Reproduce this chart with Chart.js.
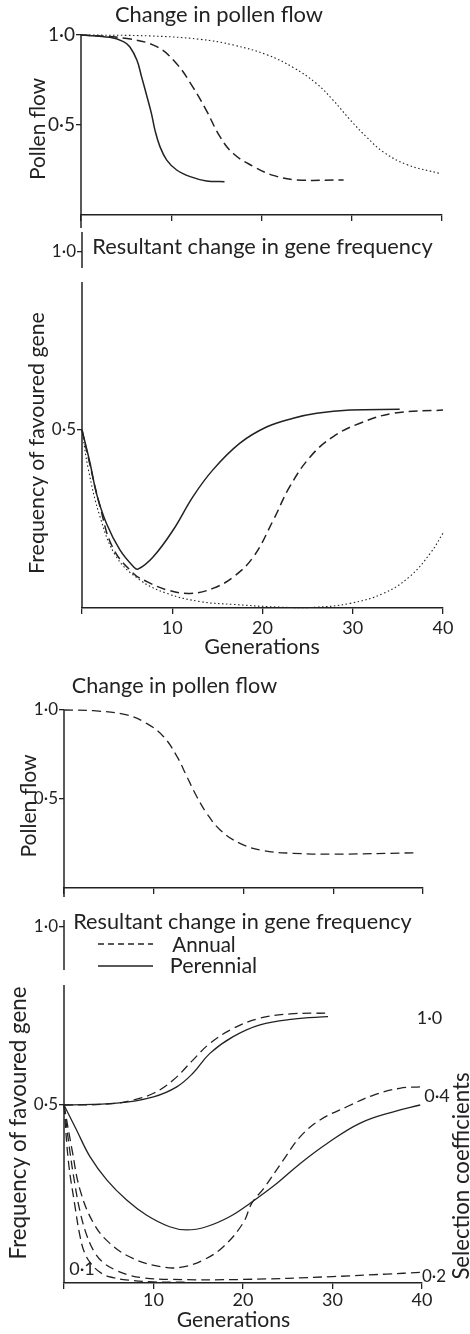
<!DOCTYPE html>
<html>
<head>
<meta charset="utf-8">
<script src="https://cdn.jsdelivr.net/npm/chart.js@4.4.1/dist/chart.umd.min.js"></script>
<style>
  body { margin: 0; background: #fff; width: 470px; height: 1334px; position: relative; overflow: hidden; font-family: Lato, "Open Sans", sans-serif; color: #222; }
  canvas { position: absolute; left: 0; }
  .lbl { position: absolute; white-space: nowrap; line-height: 1; font-size: 18px; }
</style>
</head>
<body>
<canvas id="c1" width="470" height="240" style="top:0px"></canvas>
<canvas id="c2" width="470" height="430" style="top:220px"></canvas>
<canvas id="c3" width="470" height="225" style="top:680px"></canvas>
<canvas id="c4" width="470" height="434" style="top:900px"></canvas>

<script>
const ink = '#222';

// x axis: generations, y axis: pollen flow / gene frequency
const genTicks = [0, 10, 20, 30, 40];
const valueTicks = [0.5, 1.0];

// --- top figure, change in pollen flow ---
const p1SolidGen  = [0, 3.2, 4.7, 5.4, 6.2, 6.7, 7.3, 7.8, 8.2, 8.75, 9.5, 10.6, 12.1, 13.9, 15.9];
const p1SolidFlow = [1.0, 0.987, 0.963, 0.935, 0.86, 0.77, 0.66, 0.565, 0.47, 0.38, 0.305, 0.25, 0.213, 0.189, 0.185];
const p1DashGen   = [0, 5.1, 8.4, 10.6, 12.4, 13.9, 15.4, 16.9, 19.1, 21.3, 23.9, 29.1];
const p1DashFlow  = [1.0, 0.98, 0.935, 0.84, 0.71, 0.58, 0.435, 0.34, 0.27, 0.22, 0.195, 0.195];
const p1DotGen    = [0, 7.6, 13.2, 16.9, 20.6, 23.5, 26.1, 27.9, 29.8, 31.7, 33.5, 36.1, 39.8];
const p1DotFlow   = [1.0, 0.995, 0.976, 0.944, 0.89, 0.82, 0.73, 0.64, 0.53, 0.43, 0.35, 0.28, 0.23];

// --- top figure, resultant gene frequency ---
const p2SolidGen  = [0, 0.9, 1.6, 2.7, 4.2, 5.7, 6.2, 7.9, 10.1, 12.3, 14.5, 17.5, 20.5, 23.4, 26, 29.7, 35.2];
const p2SolidFreq = [0.5, 0.406, 0.322, 0.238, 0.163, 0.116, 0.109, 0.144, 0.219, 0.313, 0.388, 0.463, 0.509, 0.533, 0.547, 0.556, 0.558];
const p2DashGen   = [0, 0.9, 2, 3.4, 5.7, 7.2, 9.4, 12, 14.5, 16.8, 19, 21.2, 23, 25.3, 27.8, 30.8, 34.5, 40];
const p2DashFreq  = [0.5, 0.40, 0.285, 0.17, 0.097, 0.074, 0.051, 0.041, 0.055, 0.088, 0.144, 0.247, 0.34, 0.425, 0.481, 0.519, 0.547, 0.556];
const p2DotGen    = [0, 0.7, 2, 3.8, 6.4, 9.4, 13.1, 16.8, 22.3, 25.9, 29.7, 33.4, 36.3, 38.6, 40];
const p2DotFreq   = [0.5, 0.39, 0.256, 0.144, 0.079, 0.041, 0.018, 0.010, 0.002, 0.002, 0.013, 0.041, 0.088, 0.154, 0.21];

// --- bottom figure, change in pollen flow ---
const p3DashGen  = [0, 3.3, 7, 9.2, 11.1, 12.6, 13.7, 14.8, 15.9, 17.4, 19.6, 22.2, 25.5, 29.9, 39.3];
const p3DashFlow = [1.0, 0.996, 0.972, 0.925, 0.85, 0.738, 0.625, 0.513, 0.42, 0.326, 0.251, 0.21, 0.195, 0.19, 0.198];

// --- bottom figure, annual vs perennial for selection coefficients ---
const annualS10Gen     = [0, 5.1, 7.7, 10, 12.2, 14.4, 16.3, 18.9, 21.9, 25.3, 29.5];
const annualS10Freq    = [0.5, 0.503, 0.514, 0.533, 0.57, 0.626, 0.673, 0.715, 0.744, 0.756, 0.758];
const perennialS10Gen  = [0, 5.9, 10, 12.6, 14.4, 16.3, 18.9, 21.9, 25.6, 29.5];
const perennialS10Freq = [0.5, 0.505, 0.523, 0.551, 0.589, 0.645, 0.692, 0.725, 0.741, 0.748];
const annualS04Gen     = [0, 0.9, 1.8, 3.3, 5.1, 7.7, 10.8, 13, 15.6, 17.8, 20, 21, 22.3, 24.5, 26.4, 28.6, 31.6, 34.6, 37.5, 39.8];
const annualS04Freq    = [0.5, 0.374, 0.261, 0.168, 0.112, 0.069, 0.046, 0.044, 0.065, 0.102, 0.168, 0.225, 0.265, 0.345, 0.411, 0.458, 0.495, 0.528, 0.547, 0.551];
const perennialS04Gen  = [0, 1.4, 2.9, 4.8, 7, 9.2, 11.8, 13.7, 15.9, 18.5, 20.8, 23.8, 26.4, 29.4, 33.1, 36.8, 39.8];
const perennialS04Freq = [0.5, 0.43, 0.355, 0.289, 0.233, 0.191, 0.158, 0.149, 0.158, 0.186, 0.224, 0.28, 0.336, 0.392, 0.449, 0.481, 0.5];
const annualS02Gen     = [0, 0.6, 1.2, 1.8, 2.6, 3.5, 4.5, 5.7, 7, 8.7, 12, 20, 30, 36, 39.8];
const annualS02Freq    = [0.5, 0.38, 0.28, 0.2, 0.13, 0.083, 0.055, 0.037, 0.024, 0.015, 0.01, 0.01, 0.018, 0.025, 0.03];
const annualS01Gen     = [0, 0.5, 1.2, 1.8, 2.3, 3, 4.2, 5.5, 7.2, 10, 14];
const annualS01Freq    = [0.5, 0.34, 0.22, 0.13, 0.085, 0.055, 0.027, 0.015, 0.008, 0.003, 0.002];

const SOLID = [];
const DASH = [9, 5];
const DOT = [1.5, 2.5];

function series(gen, vals, dash, width) {
  return {
    data: gen.map((g, i) => ({ x: g, y: vals[i] })),
    borderColor: ink,
    borderWidth: width || 1.5,
    borderDash: dash,
    pointRadius: 0,
    fill: false,
    tension: 0.4,
    clip: false
  };
}

// y axis line (broken in places) + legend samples
const axisLines = {
  id: 'axisLines',
  afterDraw(chart, args, opts) {
    const { ctx, chartArea, scales } = chart;
    ctx.save();
    ctx.strokeStyle = ink;
    ctx.lineWidth = 1.5;
    (opts.segments || []).forEach(([a, b]) => {
      ctx.beginPath();
      ctx.moveTo(chartArea.left, scales.y.getPixelForValue(a));
      ctx.lineTo(chartArea.left, scales.y.getPixelForValue(b));
      ctx.stroke();
    });
    (opts.legend || []).forEach(item => {
      ctx.lineWidth = 1.3;
      ctx.setLineDash(item.dash);
      ctx.beginPath();
      ctx.moveTo(item.x1, item.y);
      ctx.lineTo(item.x2, item.y);
      ctx.stroke();
    });
    ctx.restore();
  }
};

function makeChart(id, datasets, o) {
  return new Chart(document.getElementById(id), {
    type: 'line',
    data: { datasets },
    options: {
      responsive: false,
      animation: false,
      events: [],
      layout: { padding: { top: o.top, right: o.right, left: 0, bottom: 0 } },
      plugins: {
        legend: { display: false },
        tooltip: { enabled: false },
        axisLines: { segments: o.segments, legend: o.legend }
      },
      scales: {
        x: {
          type: 'linear', min: 0, max: 40,
          afterFit: s => { s.height = o.xHeight; },
          afterBuildTicks: s => { s.ticks = genTicks.map(v => ({ value: v })); },
          ticks: {
            autoSkip: false, maxRotation: 0, color: ink, padding: o.xPad,
            font: { size: 18 },
            callback: v => (o.xLabels && v > 0) ? String(v) : ''
          },
          grid: { drawOnChartArea: false, tickLength: 6, color: ink, lineWidth: 1.3 },
          border: { display: true, color: ink, width: 1.5 }
        },
        y: {
          type: 'linear', min: 0, max: 1,
          afterFit: s => { s.width = o.left; },
          afterBuildTicks: s => { s.ticks = valueTicks.map(v => ({ value: v })); },
          ticks: {
            color: ink, padding: 1,
            font: { size: o.yFont || 17 },
            callback: v => v.toFixed(1).replace('.', '\u00b7')
          },
          grid: { drawOnChartArea: false, tickLength: 5, color: ink, lineWidth: 1.3 },
          border: { display: false }
        }
      }
    },
    plugins: [axisLines]
  });
}

Chart.defaults.font.family = 'Lato, "Open Sans", sans-serif';

makeChart('c1', [
  series(p1SolidGen, p1SolidFlow, SOLID),
  series(p1DashGen, p1DashFlow, DASH),
  series(p1DotGen, p1DotFlow, DOT, 1.1)
], { top: 35, right: 28, left: 81, xHeight: 25, xPad: 0, xLabels: false, yFont: 19,
     segments: [[-0.072, 1.0]] });

makeChart('c2', [
  series(p2SolidGen, p2SolidFreq, SOLID),
  series(p2DashGen, p2DashFreq, DASH),
  series(p2DotGen, p2DotFreq, DOT, 1.1)
], { top: 32, right: 27, left: 82, xHeight: 42, xPad: 3, xLabels: true,
     segments: [[0, 0.916], [0.955, 1.056]] });

makeChart('c3', [
  series(p3DashGen, p3DashFlow, DASH, 1.3)
], { top: 30, right: 47, left: 64, xHeight: 17, xPad: 0, xLabels: false,
     segments: [[-0.05, 1.0]] });

makeChart('c4', [
  series(annualS10Gen, annualS10Freq, DASH, 1.3),
  series(perennialS10Gen, perennialS10Freq, SOLID, 1.3),
  series(annualS04Gen, annualS04Freq, DASH, 1.3),
  series(perennialS04Gen, perennialS04Freq, SOLID, 1.3),
  series(annualS02Gen, annualS02Freq, DASH, 1.3),
  series(annualS01Gen, annualS01Freq, DASH, 1.3)
], { top: 27, right: 48, left: 64, xHeight: 51, xPad: 0, xLabels: true,
     segments: [[0, 0.837], [0.879, 1.02]],
     legend: [{ x1: 98, x2: 153, y: 44, dash: [6, 4] }, { x1: 98, x2: 153, y: 66, dash: [] }] });

// text labels: centre x, centre y, target width (or fixed size), rotated
const labels = [
  { text: 'Change in pollen flow', x: 219, y: 14, w: 208 },
  { text: 'Pollen flow', x: 37, y: 129, w: 102, rot: true },
  { text: 'Resultant change in gene frequency', x: 262.5, y: 246, w: 341 },
  { text: 'Frequency of favoured gene', x: 37, y: 443, w: 261, rot: true },
  { text: 'Generations', x: 262, y: 647, w: 115 },
  { text: 'Change in pollen flow', x: 174.5, y: 686, w: 205 },
  { text: 'Pollen flow', x: 28, y: 806, w: 103, rot: true },
  { text: 'Resultant change in gene frequency', x: 242.5, y: 922, w: 339 },
  { text: 'Annual', x: 204, y: 944, w: 63 },
  { text: 'Perennial', x: 213.5, y: 966, w: 87 },
  { text: 'Frequency of favoured gene', x: 18, y: 1123, w: 273, rot: true },
  { text: 'Selection coefficients', x: 461, y: 1176, w: 207, rot: true },
  { text: 'Generations', x: 233.5, y: 1320, w: 113 },
  { text: '1\u00b70', x: 429.5, y: 1017, size: 18 },
  { text: '0\u00b74', x: 437, y: 1095, size: 18 },
  { text: '0\u00b72', x: 434, y: 1275, size: 17 },
  { text: '0\u00b71', x: 82, y: 1268, size: 18 }
];

labels.forEach(l => {
  const el = document.createElement('div');
  el.className = 'lbl';
  el.textContent = l.text;
  document.body.appendChild(el);
  const size = l.size || 18 * l.w / el.offsetWidth;
  el.style.fontSize = size.toFixed(1) + 'px';
  el.style.left = l.x + 'px';
  el.style.top = l.y + 'px';
  el.style.transform = 'translate(-50%, -50%)' + (l.rot ? ' rotate(-90deg)' : '');
});
</script>
</body>
</html>
